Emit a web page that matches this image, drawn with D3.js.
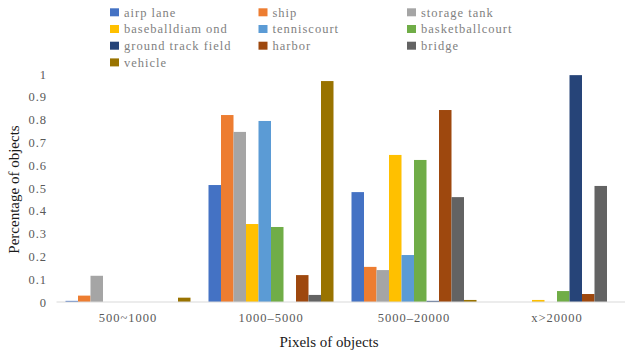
<!DOCTYPE html>
<html>
<head>
<meta charset="utf-8">
<script src="https://cdn.jsdelivr.net/npm/d3@7"></script>
<style>
  html, body { margin: 0; padding: 0; background: #fff; }
  svg { display: block; }
</style>
</head>
<body>
<svg id="chart" width="625" height="359"></svg>
<script>
// Size buckets along the x axis
const categories = ["500~1000", "1000\u20135000", "5000\u201320000", "x>20000"];

// Object classes (one bar per class in each bucket)
const seriesNames = ["airplane", "ship", "storage tank", "baseballdiamond", "tennis court",
  "basketballcourt", "ground track field", "harbor", "bridge", "vehicle"];
const legendLabels = ["airp lane", "ship", "storage tank", "baseballdiam ond", "tenniscourt",
  "basketballcourt", "ground track field", "harbor", "bridge", "vehicle"];

// Share of objects of each class falling in each size bucket
const airplane         = [0.005, 0.513, 0.482, 0];
const ship             = [0.028, 0.820, 0.154, 0];
const storageTank      = [0.115, 0.746, 0.140, 0];
const baseballDiamond  = [0,     0.342, 0.645, 0.009];
const tennisCourt      = [0,     0.794, 0.206, 0];
const basketballCourt  = [0,     0.329, 0.623, 0.048];
const groundTrackField = [0,     0,     0.005, 0.995];
const harbor           = [0,     0.118, 0.842, 0.035];
const bridge           = [0,     0.031, 0.460, 0.509];
const vehicle          = [0.019, 0.969, 0.009, 0];

const yTicks = [0, 0.1, 0.2, 0.3, 0.4, 0.5, 0.6, 0.7, 0.8, 0.9, 1];

const seriesValues = [airplane, ship, storageTank, baseballDiamond, tennisCourt,
  basketballCourt, groundTrackField, harbor, bridge, vehicle];
const colors = ["#4472C4", "#ED7D31", "#A5A5A5", "#FFC000", "#5B9BD5",
  "#70AD47", "#264478", "#9E480E", "#636363", "#997300"];

const SERIF = '"Liberation Serif", "DejaVu Serif", serif';

const svg = d3.select("#chart");
const plot = { left: 56.5, right: 628.5, top: 74, bottom: 302 };

const x0 = d3.scaleBand().domain(categories).range([plot.left, plot.right]).padding(0);
const groupPad = 9;
const x1 = d3.scaleBand().domain(seriesNames)
  .range([groupPad, x0.bandwidth() - groupPad]).padding(0);
const y = d3.scaleLinear().domain([0, 1]).range([plot.bottom, plot.top]);
const color = d3.scaleOrdinal().domain(seriesNames).range(colors);

// Bars
const groups = svg.append("g").selectAll("g")
  .data(categories)
  .join("g")
  .attr("transform", d => `translate(${x0(d)},0)`);

groups.selectAll("rect")
  .data((c, ci) => seriesNames.map((s, si) => ({ s, v: seriesValues[si][ci] })))
  .join("rect")
  .attr("x", d => x1(d.s))
  .attr("width", x1.bandwidth())
  .attr("y", d => y(d.v))
  .attr("height", d => y(0) - y(d.v))
  .attr("fill", d => color(d.s));

// Baseline
svg.append("line")
  .attr("x1", plot.left).attr("x2", 625)
  .attr("y1", y(0)).attr("y2", y(0))
  .attr("stroke", "#d9d9d9").attr("stroke-width", 1);

function styleTickText(g) {
  g.attr("font-family", SERIF);
  g.selectAll("text")
    .attr("fill", "#595959")
    .style("font-family", SERIF)
    .style("font-size", "12.5px")
    .style("letter-spacing", "1px");
}

// Y axis labels
const yAxis = d3.axisLeft(y).tickValues(yTicks).tickSize(0).tickPadding(0)
  .tickFormat(d => d3.format("")(+d.toFixed(1)));
svg.append("g")
  .attr("transform", "translate(47,0)")
  .call(yAxis)
  .call(g => g.select(".domain").remove())
  .call(styleTickText);

// X axis labels
const xAxis = d3.axisBottom(x0).tickSize(0).tickPadding(0);
svg.append("g")
  .attr("transform", `translate(0,${y(0) + 11})`)
  .call(xAxis)
  .call(g => g.select(".domain").remove())
  .call(styleTickText);

// Axis titles
svg.append("text")
  .attr("transform", "translate(19,189.5) rotate(-90)")
  .attr("text-anchor", "middle")
  .attr("fill", "#1a1a1a")
  .style("font-family", SERIF)
  .style("font-size", "15px")
  .text("Percentage of objects");

svg.append("text")
  .attr("x", 329).attr("y", 347)
  .attr("text-anchor", "middle")
  .attr("fill", "#1a1a1a")
  .style("font-family", SERIF)
  .style("font-size", "15px")
  .text("Pixels of objects");

// Legend: three columns
const legend = svg.append("g").selectAll("g")
  .data(seriesNames)
  .join("g")
  .attr("transform", (d, i) => `translate(${110 + (i % 3) * 148.5},${12.3 + Math.floor(i / 3) * 16.7})`);

legend.append("rect")
  .attr("x", 0).attr("y", -4)
  .attr("width", 9).attr("height", 8)
  .attr("fill", d => color(d));

legend.append("text")
  .attr("x", 14).attr("y", 0)
  .attr("dy", "0.35em")
  .attr("fill", "#7f7f7f")
  .style("font-family", SERIF)
  .style("font-size", "12.5px")
  .style("letter-spacing", "1px")
  .text((d, i) => legendLabels[i]);
</script>
</body>
</html>
